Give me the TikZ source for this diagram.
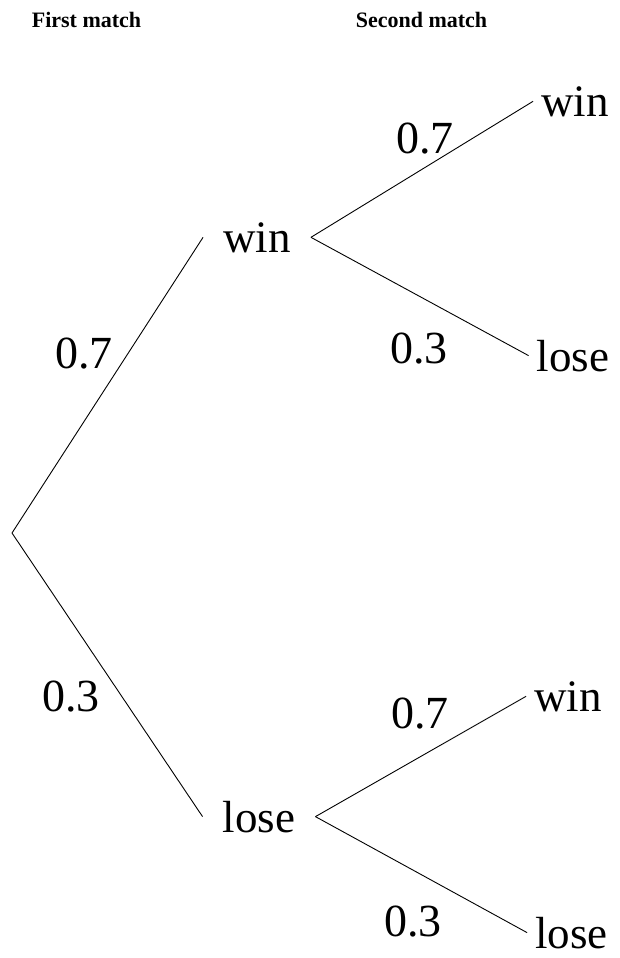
\documentclass[tikz,border=0pt]{standalone}
\usepackage{fontspec}
\setmainfont{Liberation Serif}
\usetikzlibrary{positioning}
\tikzset{
  coltitle/.style={font=\fontsize{22}{26}\selectfont\bfseries,anchor=base},
  outcome/.style={font=\fontsize{45}{54}\selectfont,anchor=base,inner xsep=20pt,inner ysep=0pt},
  leaf/.style={outcome,inner xsep=8pt},
  prob/.style={font=\fontsize{46}{55}\selectfont,inner sep=0pt},
  branch/.style={line width=0.9pt},
}

\begin{document}
\begin{tikzpicture}[x=1pt,y=-1pt]
\useasboundingbox (0,0) rectangle (619,958);

\node[coltitle] (t1) at (86.5,28) {First match};
\node[coltitle] (t2) at (421.5,28) {Second match};

% first match
\coordinate (root) at (12,533);
\node[outcome] (w) at (257,252) {win};
\node[outcome] (l) at (259,832) {lose};
\draw[branch] (root) -- (w.west);
\draw[branch] (root) -- (l.west);
\node[prob] (p1) at (84,354) {0.7};
\node[prob] (p2) at (71,697) {0.3};

% second match
\node[leaf] (ww) at (575,116) {win};
\node[leaf] (wl) at (573,371) {lose};
\node[leaf] (lw) at (568,711) {win};
\node[leaf] (ll) at (571.5,948) {lose};
\draw[branch] (w.east) -- (ww.west);
\draw[branch] (w.east) -- (wl.west);
\draw[branch] (l.east) -- (lw.west);
\draw[branch] (l.east) -- (ll.west);
\node[prob] (p3) at (425,139) {0.7};
\node[prob] (p4) at (419,349) {0.3};
\node[prob] (p5) at (420,714) {0.7};
\node[prob] (p6) at (413,922) {0.3};

\end{tikzpicture}
\end{document}
